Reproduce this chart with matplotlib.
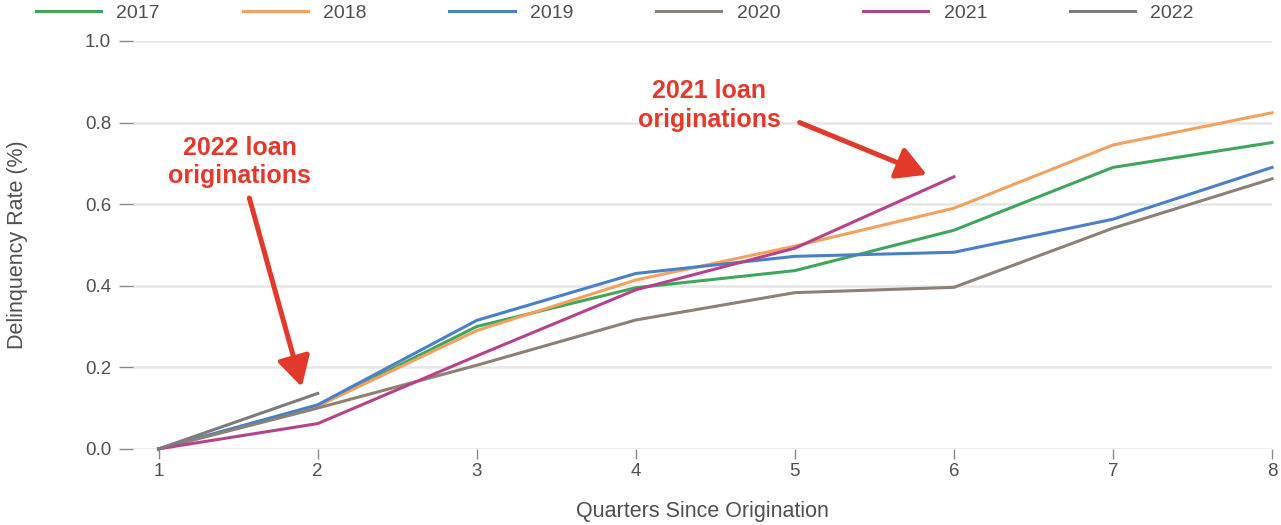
"""Delinquency rate by quarters since origination, one line per vintage year."""

import matplotlib

matplotlib.use("Agg")
import matplotlib.pyplot as plt  # noqa: E402

plt.rcParams.update({"font.family": ["Liberation Sans", "DejaVu Sans"]})

QUARTERS = [1, 2, 3, 4, 5, 6, 7, 8]
VINTAGES = ["2017", "2018", "2019", "2020", "2021", "2022"]
RATE_2017 = [0.0, 0.105, 0.300, 0.395, 0.437, 0.536, 0.690, 0.751]
RATE_2018 = [0.0, 0.105, 0.290, 0.414, 0.497, 0.590, 0.745, 0.824]
RATE_2019 = [0.0, 0.108, 0.315, 0.430, 0.472, 0.482, 0.563, 0.690]
RATE_2020 = [0.0, 0.100, 0.205, 0.316, 0.383, 0.396, 0.541, 0.662]
RATE_2021 = [0.0, 0.062, 0.228, 0.390, 0.492, 0.667]
RATE_2022 = [0.0, 0.136]
COLORS = ["#3fa75b", "#f2a15e", "#4a7fc9", "#8d8175", "#b5438c", "#7c7c7c"]
RED = "#e2392a"
GREY_TXT = "#505050"

series = [RATE_2017, RATE_2018, RATE_2019, RATE_2020, RATE_2021, RATE_2022]

fig = plt.figure(figsize=(12.81, 5.25), dpi=100)
ax = fig.add_axes([0.104, 0.145, 0.889, 0.777])

for name, vals, col in zip(VINTAGES, series, COLORS):
    ax.plot(QUARTERS[: len(vals)], vals, color=col, lw=2.2, label=name,
            clip_on=False, solid_joinstyle="round")

ax.set_xlim(0.84, 8.0)
ax.set_ylim(0, 1.0)
yt = [0.0, 0.2, 0.4, 0.6, 0.8, 1.0]
ax.set_yticks(yt)
ax.set_yticklabels([f"{v:.1f}" for v in yt])
ax.set_xticks(QUARTERS)
ax.grid(axis="y", color="#e6e6e6", lw=1.8)
ax.set_axisbelow(True)
for s in ax.spines.values():
    s.set_visible(False)
ax.tick_params(axis="y", length=10, width=1, color="#888888", pad=6,
               labelsize=13.5, labelcolor=GREY_TXT)
ax.tick_params(axis="x", length=7, width=1, color="#888888", pad=3,
               labelsize=13.5, labelcolor=GREY_TXT)
ax.set_xlabel("Quarters Since Origination", fontsize=15.5, color=GREY_TXT, labelpad=15)
ax.set_ylabel("Delinquency Rate (%)", fontsize=15.5, color=GREY_TXT, labelpad=41)

arrow = dict(arrowstyle="-|>,head_width=1.0,head_length=1.8", lw=3.6, color=RED,
             shrinkA=0, shrinkB=0)
note = dict(ha="center", va="center", fontsize=18, fontweight="bold", color=RED,
            linespacing=1.25)
ax.text(1.51, 0.703, "2022 loan\noriginations", **note)
ax.annotate("", xy=(1.90, 0.152), xytext=(1.57, 0.615), arrowprops=arrow)
ax.text(4.463, 0.841, "2021 loan\noriginations", **note)
ax.annotate("", xy=(5.83, 0.672), xytext=(5.03, 0.80), arrowprops=arrow)

fig.legend(loc="center", bbox_to_anchor=(0.48, 0.975), ncol=6, frameon=False,
           handlelength=3.35, handletextpad=0.8, columnspacing=4.25,
           fontsize=14, labelcolor=GREY_TXT)

fig.savefig("out.png", dpi=100)
